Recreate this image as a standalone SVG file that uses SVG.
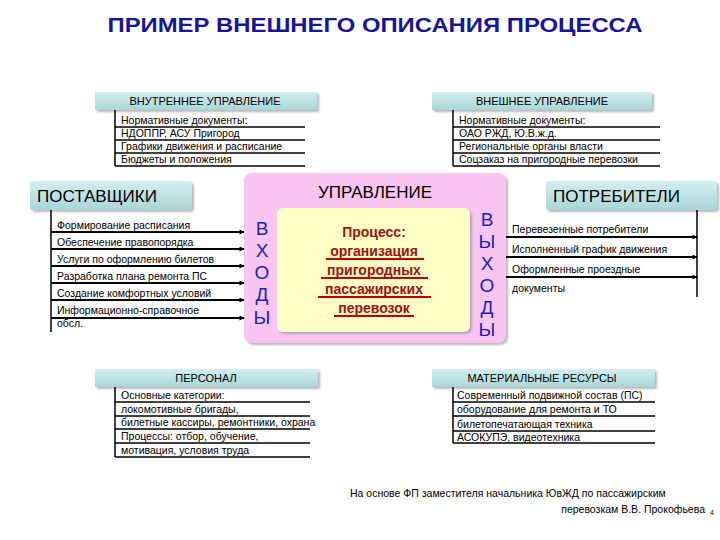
<svg xmlns="http://www.w3.org/2000/svg" width="720" height="540" viewBox="0 0 720 540">
<defs>
<linearGradient id="teal" x1="0" y1="0" x2="0" y2="1">
<stop offset="0" stop-color="#d3eeee"/><stop offset="1" stop-color="#a9d6d8"/>
</linearGradient>
<marker id="ah" viewBox="0 0 10 10" refX="9" refY="5" markerWidth="6" markerHeight="5" orient="auto" markerUnits="userSpaceOnUse">
<path d="M0,0 L10,5 L0,10 z" fill="#000"/>
</marker>
<filter id="sh" x="-5%" y="-10%" width="115%" height="140%">
<feDropShadow dx="2" dy="2" stdDeviation="1" flood-color="#888" flood-opacity="0.6"/>
</filter>
</defs>
<style>
text{font-family:"Liberation Sans",Arial,sans-serif;fill:#000}
.title{font-size:21px;font-weight:bold;fill:#1414a0}
.hdr{font-size:11px;text-anchor:middle}
.big{font-size:17px}
.it{font-size:10.5px}
.ln{stroke:#000;stroke-width:1.5;fill:none}
.ar{stroke:#000;stroke-width:1.8;fill:none;marker-end:url(#ah)}
.vx{font-size:19px;fill:#2020c8;text-anchor:middle}
.pr{font-size:14px;font-weight:bold;fill:#a01010;text-anchor:middle}
.ul{stroke:#c00000;stroke-width:2}
.box{fill:url(#teal);filter:url(#sh)}
</style>
<rect width="720" height="540" fill="#fff"/>
<text class="title" x="375" y="32" text-anchor="middle" textLength="535" lengthAdjust="spacingAndGlyphs">ПРИМЕР ВНЕШНЕГО ОПИСАНИЯ ПРОЦЕССА</text>

<g id="internal">
<rect class="box" x="95" y="92" width="222" height="18"/>
<text class="hdr" x="205" y="105">ВНУТРЕННЕЕ УПРАВЛЕНИЕ</text>
<line class="ln" x1="115" y1="110" x2="115" y2="166"/>
<text class="it" x="121" y="124">Нормативные документы:</text>
<line class="ln" x1="115" y1="127" x2="305" y2="127"/>
<text class="it" x="121" y="137">НДОППР, АСУ Пригород</text>
<line class="ln" x1="115" y1="140" x2="305" y2="140"/>
<text class="it" x="121" y="150">Графики движения и расписание</text>
<line class="ln" x1="115" y1="153" x2="305" y2="153"/>
<text class="it" x="121" y="163">Бюджеты и положения</text>
<line class="ln" x1="115" y1="166" x2="305" y2="166"/>
</g>

<g id="external">
<rect class="box" x="432" y="92" width="220" height="18"/>
<text class="hdr" x="542" y="105">ВНЕШНЕЕ УПРАВЛЕНИЕ</text>
<line class="ln" x1="453" y1="110" x2="453" y2="166"/>
<text class="it" x="459" y="124">Нормативные документы:</text>
<line class="ln" x1="453" y1="127" x2="660" y2="127"/>
<text class="it" x="459" y="137">ОАО РЖД, Ю.В.ж.д.</text>
<line class="ln" x1="453" y1="140" x2="660" y2="140"/>
<text class="it" x="459" y="150">Региональные органы власти</text>
<line class="ln" x1="453" y1="153" x2="660" y2="153"/>
<text class="it" x="459" y="163">Соцзаказ на пригородные перевозки</text>
<line class="ln" x1="453" y1="166" x2="660" y2="166"/>
</g>

<g id="suppliers">
<rect class="box" x="30" y="181" width="162" height="29" rx="3"/>
<text class="big" x="37" y="202">ПОСТАВЩИКИ</text>
<line class="ln" x1="51" y1="210" x2="51" y2="332"/>
<text class="it" x="57" y="229">Формирование расписания</text>
<text class="it" x="57" y="246">Обеспечение правопорядка</text>
<text class="it" x="57" y="263">Услуги по оформлению билетов</text>
<text class="it" x="57" y="280">Разработка плана ремонта ПС</text>
<text class="it" x="57" y="297">Создание комфортных условий</text>
<text class="it" x="57" y="314">Информационно-справочное</text>
<text class="it" x="57" y="327">обсл.</text>
</g>

<g id="process">
<rect x="244" y="173" width="262" height="170" rx="8" fill="#f8c6f0" filter="url(#sh)"/>
<text class="big" x="375" y="198" text-anchor="middle">УПРАВЛЕНИЕ</text>
<rect x="277" y="208" width="193" height="124" rx="6" fill="#ffffc6" filter="url(#sh)"/>
<text class="pr" x="374" y="237">Процесс:</text>
<text class="pr" x="374" y="256">организация</text>
<line class="ul" x1="326" y1="259" x2="424" y2="259"/>
<text class="pr" x="374" y="275">пригородных</text>
<line class="ul" x1="321" y1="278" x2="428" y2="278"/>
<text class="pr" x="374" y="294">пассажирских</text>
<line class="ul" x1="318" y1="297" x2="431" y2="297"/>
<text class="pr" x="374" y="313">перевозок</text>
<line class="ul" x1="334" y1="316" x2="414" y2="316"/>
<text class="vx" x="262" y="235">В</text>
<text class="vx" x="262" y="257">Х</text>
<text class="vx" x="262" y="279">О</text>
<text class="vx" x="262" y="301">Д</text>
<text class="vx" x="262" y="324">Ы</text>
<text class="vx" x="487" y="226">В</text>
<text class="vx" x="487" y="248">Ы</text>
<text class="vx" x="487" y="270">Х</text>
<text class="vx" x="487" y="292">О</text>
<text class="vx" x="487" y="314">Д</text>
<text class="vx" x="487" y="336">Ы</text>
</g>

<g id="consumers">
<rect class="box" x="546" y="181" width="171" height="29" rx="3"/>
<text class="big" x="553" y="202">ПОТРЕБИТЕЛИ</text>
<line class="ln" x1="697" y1="210" x2="697" y2="297"/>
<text class="it" x="512" y="233">Перевезенные потребители</text>
<text class="it" x="512" y="253">Исполненный график движения</text>
<text class="it" x="512" y="273">Оформленные проездные</text>
<text class="it" x="512" y="292">документы</text>
</g>

<g id="personnel">
<rect class="box" x="95" y="369" width="223" height="18"/>
<text class="hdr" x="206" y="382">ПЕРСОНАЛ</text>
<line class="ln" x1="115" y1="387" x2="115" y2="457"/>
<text class="it" x="121" y="399">Основные категории:</text>
<line class="ln" x1="115" y1="402" x2="310" y2="402"/>
<text class="it" x="121" y="413">локомотивные бригады,</text>
<line class="ln" x1="115" y1="416" x2="310" y2="416"/>
<text class="it" x="121" y="426">билетные кассиры, ремонтники, охрана</text>
<line class="ln" x1="115" y1="429" x2="310" y2="429"/>
<text class="it" x="121" y="440">Процессы: отбор, обучение,</text>
<line class="ln" x1="115" y1="443" x2="310" y2="443"/>
<text class="it" x="121" y="454">мотивация, условия труда</text>
<line class="ln" x1="115" y1="457" x2="310" y2="457"/>
</g>

<g id="resources">
<rect class="box" x="432" y="369" width="223" height="18"/>
<text class="hdr" x="542" y="382">МАТЕРИАЛЬНЫЕ РЕСУРСЫ</text>
<line class="ln" x1="453" y1="387" x2="453" y2="443"/>
<text class="it" x="457" y="399">Современный подвижной состав (ПС)</text>
<line class="ln" x1="453" y1="402" x2="655" y2="402"/>
<text class="it" x="457" y="413">оборудование для ремонта и ТО</text>
<line class="ln" x1="453" y1="416" x2="655" y2="416"/>
<text class="it" x="457" y="428">билетопечатающая техника</text>
<line class="ln" x1="453" y1="431" x2="655" y2="431"/>
<text class="it" x="457" y="441">АСОКУПЭ, видеотехника</text>
<line class="ln" x1="453" y1="443" x2="655" y2="443"/>
</g>

<g id="connectors">
<line class="ar" x1="51" y1="232" x2="244" y2="232"/>
<line class="ar" x1="51" y1="249" x2="244" y2="249"/>
<line class="ar" x1="51" y1="266" x2="244" y2="266"/>
<line class="ar" x1="51" y1="283" x2="244" y2="283"/>
<line class="ar" x1="51" y1="300" x2="244" y2="300"/>
<line class="ar" x1="51" y1="318" x2="244" y2="318"/>
<line class="ar" x1="506" y1="237" x2="697" y2="237"/>
<line class="ar" x1="506" y1="257" x2="697" y2="257"/>
<line class="ar" x1="506" y1="277" x2="697" y2="277"/>
</g>

<g id="footer">
<text x="350" y="497" font-size="10.5">На основе ФП заместителя начальника ЮвЖД по пассажирским</text>
<text x="705" y="513" font-size="10.5" text-anchor="end">перевозкам В.В. Прокофьева</text>
<text x="710" y="515" font-size="7">4</text>
</g>
</svg>
